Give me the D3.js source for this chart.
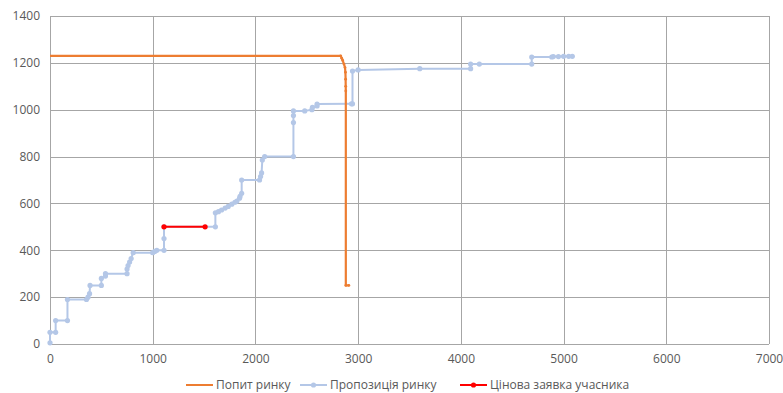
<!DOCTYPE html>
<html>
<head>
<meta charset="utf-8">
<script src="https://cdn.jsdelivr.net/npm/d3@7/dist/d3.min.js"></script>
<style>
  html, body { margin: 0; padding: 0; background: #ffffff; }
  svg text { font-family: "Open Sans", "Liberation Sans", sans-serif; fill: #595959; }
</style>
</head>
<body>
<svg id="chart" width="783" height="393"></svg>
<script>
// Market demand curve: volume (x) and price (y)
const demandVolume = [0, 2830, 2840, 2850, 2862, 2872, 2876, 2878, 2879, 2880, 2880, 2910];
const demandPrice  = [1230, 1230, 1220, 1210, 1195, 1180, 1160, 1130, 1100, 1080, 250, 250];

// Market supply curve (stepped offers)
const supplyVolume = [0, 0, 55, 55, 170, 170, 355, 370, 385, 390, 500, 500, 540, 540, 750, 750, 760, 775, 790, 810,
  1000, 1020, 1040, 1110, 1110, 1110, 1610, 1610, 1640, 1670, 1705, 1735, 1770, 1800, 1820, 1845, 1850, 1866, 1866,
  2040, 2050, 2060, 2067, 2090, 2370, 2370, 2370, 2370, 2480, 2550, 2555, 2600, 2600, 2935, 2945, 2945, 3000, 3600,
  4095, 4095, 4180, 4690, 4690, 4885, 4900, 4950, 5000, 5050, 5085];
const supplyPrice = [5, 50, 50, 100, 100, 190, 190, 200, 215, 250, 250, 280, 290, 300, 300, 320, 335, 350, 365, 390,
  390, 395, 400, 400, 450, 500, 500, 560, 565, 572, 580, 587, 597, 605, 610, 622, 630, 643, 700,
  700, 715, 730, 785, 800, 800, 945, 975, 995, 995, 1000, 1010, 1016, 1024, 1025, 1025, 1165, 1170, 1175,
  1175, 1195, 1195, 1195, 1225, 1225, 1227, 1227, 1228, 1228, 1228];

// Participant's price bid
const bidVolume = [1110, 1510];
const bidPrice  = [500, 500];

const xTicks = [0, 1000, 2000, 3000, 4000, 5000, 6000, 7000];
const yTicks = [0, 200, 400, 600, 800, 1000, 1200, 1400];

const seriesNames = ["Попит ринку", "Пропозиція ринку", "Цінова заявка учасника"];
const seriesColors = ["#ED7D31", "#B4C7E7", "#FF0000"];

const svg = d3.select("#chart");
const margin = { left: 50, right: 14, top: 16, bottom: 49 };
const W = 783, H = 393;

const x = d3.scaleLinear().domain([0, 7000]).range([margin.left, W - margin.right]);
const y = d3.scaleLinear().domain([0, 1400]).range([H - margin.bottom, margin.top]);

// Gridlines
const grid = svg.append("g");
grid.selectAll("line.v").data(xTicks).join("line")
  .attr("x1", d => Math.round(x(d)) + 0.5).attr("x2", d => Math.round(x(d)) + 0.5)
  .attr("y1", y(1400)).attr("y2", y(0))
  .attr("stroke", "#a6a6a6").attr("stroke-width", 1);
grid.selectAll("line.h").data(yTicks).join("line")
  .attr("y1", d => Math.round(y(d)) + 0.5).attr("y2", d => Math.round(y(d)) + 0.5)
  .attr("x1", x(0)).attr("x2", x(7000))
  .attr("stroke", "#a6a6a6").attr("stroke-width", 1);

// Axes (labels only; lines come from the grid)
const xAxis = svg.append("g").attr("transform", `translate(0,${y(0)})`)
  .call(d3.axisBottom(x).tickValues(xTicks).tickSize(0).tickPadding(10).tickFormat(d3.format("d")));
const yAxis = svg.append("g").attr("transform", `translate(${x(0)},0)`)
  .call(d3.axisLeft(y).tickValues(yTicks).tickSize(0).tickPadding(10).tickFormat(d3.format("d")));
[xAxis, yAxis].forEach(a => {
  a.select(".domain").remove();
  a.selectAll("text").style("font-size", "12px").attr("fill", "#595959");
});

const line = d3.line().x(d => x(d[0])).y(d => y(d[1]));

// Supply
const supply = d3.zip(supplyVolume, supplyPrice);
svg.append("path").datum(supply).attr("d", line)
  .attr("fill", "none").attr("stroke", seriesColors[1]).attr("stroke-width", 2).attr("stroke-linejoin", "round");
svg.append("g").selectAll("circle").data(supply).join("circle")
  .attr("cx", d => x(d[0])).attr("cy", d => y(d[1])).attr("r", 2.6).attr("fill", seriesColors[1]);

// Demand
const demand = d3.zip(demandVolume, demandPrice);
svg.append("path").datum(demand).attr("d", line)
  .attr("fill", "none").attr("stroke", seriesColors[0]).attr("stroke-width", 2.2).attr("stroke-linejoin", "round");
svg.append("g").selectAll("circle").data(demand.slice(1)).join("circle")
  .attr("cx", d => x(d[0])).attr("cy", d => y(d[1])).attr("r", 1.4).attr("fill", seriesColors[0]);

// Bid
const bid = d3.zip(bidVolume, bidPrice);
svg.append("path").datum(bid).attr("d", line)
  .attr("fill", "none").attr("stroke", seriesColors[2]).attr("stroke-width", 2);
svg.append("g").selectAll("circle").data(bid).join("circle")
  .attr("cx", d => x(d[0])).attr("cy", d => y(d[1])).attr("r", 2.6).attr("fill", seriesColors[2]);

// Legend
const legendY = 385;
const legendItems = [
  { name: seriesNames[0], color: seriesColors[0], marker: false, x: 186 },
  { name: seriesNames[1], color: seriesColors[1], marker: true,  x: 300 },
  { name: seriesNames[2], color: seriesColors[2], marker: true,  x: 460 }
];
const lg = svg.append("g");
legendItems.forEach(it => {
  const g = lg.append("g").attr("transform", `translate(${it.x},${legendY})`);
  g.append("line").attr("x1", 0).attr("x2", 27).attr("y1", 0).attr("y2", 0)
    .attr("stroke", it.color).attr("stroke-width", 2);
  if (it.marker) g.append("circle").attr("cx", 13.5).attr("cy", 0).attr("r", 2.6).attr("fill", it.color);
  g.append("text").attr("x", 30).attr("y", 0).attr("dy", "0.35em")
    .style("font-size", "12px").text(it.name);
});
</script>
</body>
</html>
